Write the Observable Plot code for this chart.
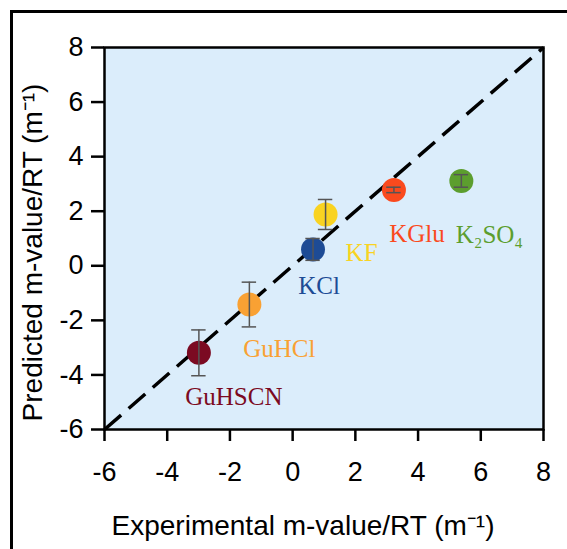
<!DOCTYPE html>
<html><head><meta charset="utf-8">
<script src="https://cdn.jsdelivr.net/npm/d3@7"></script>
<script src="https://cdn.jsdelivr.net/npm/@observablehq/plot@0.6"></script>
<style>
body{margin:0;background:#fff;}
#wrap{position:relative;width:567px;height:549px;overflow:hidden;}
#wrap svg{position:absolute;left:0;top:0;}
#border{position:absolute;left:10px;top:10px;right:-10px;bottom:-10px;border-top:3.5px solid #000;border-left:3.5px solid #000;pointer-events:none;z-index:2;}
</style></head><body><div id="wrap"><div id="border"></div></div>
<script>
// data
const salts = ["GuHSCN","GuHCl","KCl","KF","KGlu","K₂SO₄"];
const experimental = [-2.99,-1.38,0.65,1.05,3.23,5.38];
const predicted = [-3.19,-1.42,0.60,1.88,2.78,3.11];
const predictedErr = [0.84,0.82,0.40,0.55,0.10,0.23];
const colors = ["#7b0a22","#f9a133","#1d4b95","#f9d321","#fa4a1e","#5c9e2e"];
const xTicks = [-6,-4,-2,0,2,4,6,8];
const yTicks = [-6,-4,-2,0,2,4,6,8];
const identityLine = [-6, 8];
const xTitle = "Experimental m-value/RT (m\u207B\u00B9)";
const yTitle = "Predicted m-value/RT (m\u207B\u00B9)";
// label offsets (px) from each point
const labelDx = [35,30,6,36,23,28];
const labelDy = [44,44,37,39,44,54];

const data = salts.map((s,i)=>({salt:s, x:experimental[i], y:predicted[i], lo:predicted[i]-predictedErr[i], hi:predicted[i]+predictedErr[i]}));
const capHalf = 0.23;
const sans = "'Liberation Sans', Arial, Helvetica, sans-serif";
const serif = "'Liberation Serif', 'Times New Roman', serif";
const fmt = d => String(d);

const labelMarks = data.map((d,i)=>Plot.text([d], {x:"x", y:"y", text:"salt", fill:"salt", dx:labelDx[i], dy:labelDy[i], fontSize:25, fontFamily:serif, textAnchor:"middle", lineAnchor:"middle"}));

const chart = Plot.plot({
  width:567, height:549,
  marginLeft:104, marginRight:24, marginTop:47, marginBottom:120,
  style:{fontFamily:sans, background:"transparent", color:"#000"},
  x:{domain:[-6,8]},
  y:{domain:[-6,8]},
  color:{domain:salts, range:colors},
  marks:[
    Plot.frame({fill:"#dbedfb"}),
    Plot.link([identityLine], {x1:d=>d[0], y1:d=>d[0], x2:d=>d[1], y2:d=>d[1], stroke:"#000", strokeWidth:3.5, strokeDasharray:"22,10"}),
    Plot.dot(data, {x:"x", y:"y", r:12, fill:"salt"}),
    Plot.ruleX(data, {x:"x", y1:"lo", y2:"hi", stroke:"#555", strokeWidth:1.5}),
    Plot.ruleY(data, {y:"hi", x1:d=>d.x-capHalf, x2:d=>d.x+capHalf, stroke:"#555", strokeWidth:1.5}),
    Plot.ruleY(data, {y:"lo", x1:d=>d.x-capHalf, x2:d=>d.x+capHalf, stroke:"#555", strokeWidth:1.5}),
    Plot.frame({stroke:"#000", strokeWidth:2.5}),
    Plot.axisX({ticks:xTicks, tickFormat:fmt, tickSize:12, tickPadding:20, fontSize:27, strokeWidth:2.5, label:null}),
    Plot.axisY({ticks:yTicks, tickFormat:fmt, tickSize:13, tickPadding:8, fontSize:27, strokeWidth:2.5, label:null}),
    ...labelMarks,
    Plot.text([xTitle], {text:d=>d, frameAnchor:"bottom", dx:-21, dy:97, fontSize:28, fontFamily:sans, textAnchor:"middle", lineAnchor:"middle"}),
    Plot.text([yTitle], {text:d=>d, frameAnchor:"left", rotate:-90, dx:-71, dy:14, fontSize:28, fontFamily:sans, textAnchor:"middle", lineAnchor:"middle"})
  ]
});
document.getElementById("wrap").prepend(chart);
</script></body></html>
